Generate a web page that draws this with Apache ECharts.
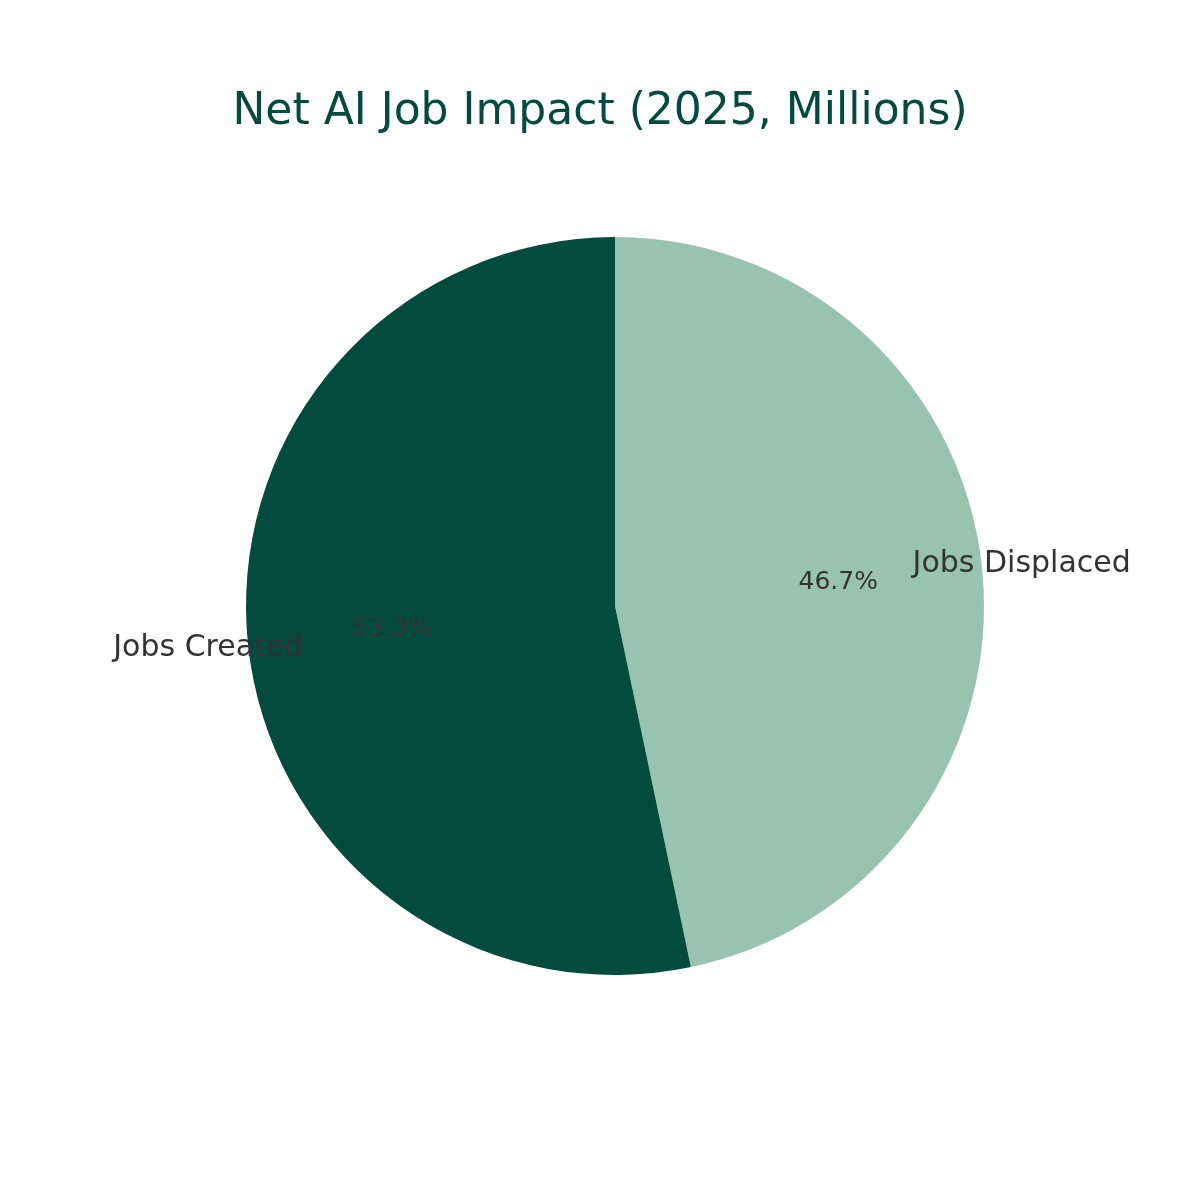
<!DOCTYPE html>
<html>
<head>
<meta charset="utf-8">
<script src="https://cdn.jsdelivr.net/npm/echarts@6/dist/echarts.min.js"></script>
<style>html,body{margin:0;background:#fff}#c{width:1200px;height:1200px}</style>
</head>
<body>
<div id="c"></div>
<script>
// slice order follows the reference (clockwise from 12 o'clock)
const categories = ['Jobs Displaced', 'Jobs Created']
const values = [85, 97]
const colors = ['#98c3b1', '#024b3d']

const R = 369
const center = [615, 606]
const font = 'DejaVu Sans'

const chart = echarts.init(document.getElementById('c'))
const base = { type: 'pie', center, startAngle: 90, clockwise: true, animation: false, labelLine: { show: false } }

chart.setOption({
  title: {
    text: 'Net AI Job Impact (2025, Millions)', left: 'center', top: 86,
    textStyle: { fontFamily: font, fontSize: 44, fontWeight: 'normal', color: '#024b3d' }
  },
  series: [
    {
      ...base, radius: [0, R], silent: true, label: { show: false },
      data: categories.map((n, i) => ({ name: n, value: values[i], itemStyle: { color: colors[i] } }))
    },
    {
      // percent labels at 0.6 R
      ...base, radius: [0, 1.2 * R], silent: true,
      itemStyle: { color: 'transparent' },
      label: { show: true, position: 'inside', formatter: p => p.percent.toFixed(1) + '%',
        fontFamily: font, fontSize: 25, color: '#333' },
      data: categories.map((n, i) => ({ name: n, value: values[i] }))
    },
    {
      // category labels at 1.1 R
      ...base, radius: [0, 2.2 * R], silent: true,
      itemStyle: { color: 'transparent' },
      label: { show: true, position: 'inside', formatter: '{b}', fontFamily: font, fontSize: 30, color: '#333' },
      data: categories.map((n, i) => ({ name: n, value: values[i],
        label: { align: i === 0 ? 'left' : 'right' } }))
    }
  ]
})
</script>
</body>
</html>
